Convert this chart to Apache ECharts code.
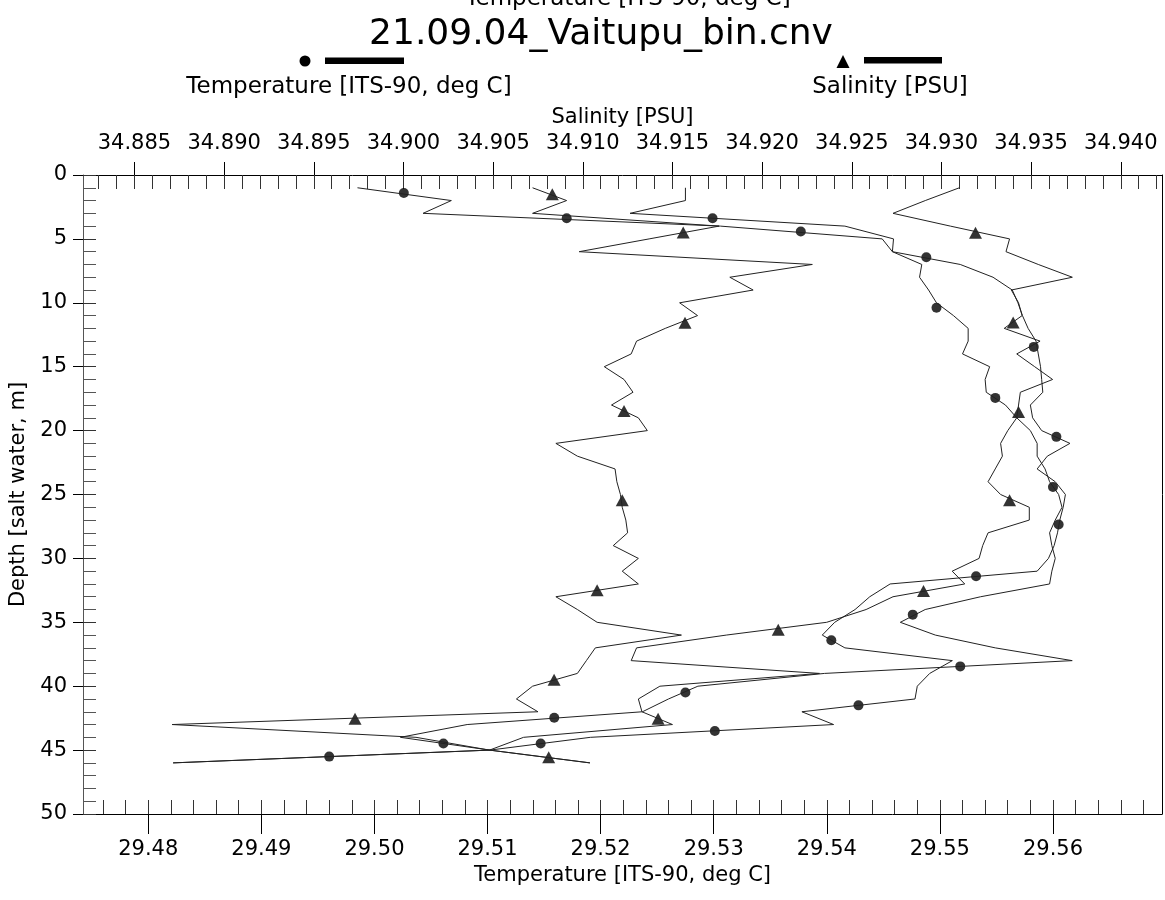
<!DOCTYPE html>
<html><head><meta charset="utf-8">
<script src="https://cdn.jsdelivr.net/npm/echarts@6.0.0/dist/echarts.min.js"></script>
<style>html,body{margin:0;padding:0;background:#fff}#c{width:1165px;height:900px}</style>
</head><body><div id="c"></div>
<script>
// Depth bins (m): downcast then upcast
const depthDown = [1,2,3,4,5,6,7,8,9,10,11,12,13,14,15,16,17,18,19,20,21,22,23,24,25,26,27,28,29,30,31,32,33,34,35,36,37,38,39,40,41,42,43,44,45,46];
const depthUp = [45,44,43,42,41,40,39,38,37,36,35,34,33,32,31,30,29,28,27,26,25,24,23,22,21,20,19,18,17,16,15,14,13,12,11,10,9,8,7,6,5,4,3,2,1];
// Temperature [ITS-90, deg C]
const tempDown = [29.4985,29.5068,29.5043,29.5306,29.5449,29.5458,29.5518,29.5547,29.5564,29.5569,29.5573,29.5578,29.5585,29.5587,29.5589,29.5590,29.5591,29.5580,29.5582,29.5590,29.5615,29.5595,29.5586,29.5602,29.5611,29.5609,29.5606,29.5604,29.5601,29.5596,29.5586,29.5456,29.5438,29.5425,29.5407,29.5396,29.5416,29.5511,29.5491,29.5480,29.5478,29.5378,29.5406,29.5191,29.5102,29.4822];
const tempUp = [29.5102,29.5023,29.5082,29.5237,29.5260,29.5286,29.5398,29.5617,29.5549,29.5496,29.5465,29.5487,29.5536,29.5597,29.5599,29.5602,29.5599,29.5597,29.5602,29.5608,29.5605,29.5597,29.5593,29.5586,29.5586,29.5580,29.5568,29.5558,29.5541,29.5540,29.5544,29.5520,29.5525,29.5525,29.5512,29.5497,29.5490,29.5482,29.5484,29.5458,29.5459,29.5416,29.5226,29.5275,29.5275];
// Salinity [PSU]
const salDown = [34.9072,34.9091,34.9072,34.9176,34.9137,34.9098,34.9228,34.9182,34.9195,34.9154,34.9164,34.9146,34.9130,34.9127,34.9112,34.9123,34.9128,34.9116,34.9131,34.9136,34.9085,34.9097,34.9118,34.9119,34.9121,34.9122,34.9124,34.9125,34.9117,34.9131,34.9122,34.9131,34.9085,34.9097,34.9108,34.9155,34.9107,34.9102,34.9097,34.9072,34.9063,34.9075,34.8871,34.9007,34.9048,34.9104];
const salUp = [34.9048,34.9067,34.9150,34.9133,34.9131,34.9143,34.9232,34.9127,34.9130,34.9180,34.9236,34.9258,34.9273,34.9313,34.9306,34.9321,34.9323,34.9326,34.9349,34.9349,34.9333,34.9326,34.9330,34.9334,34.9333,34.9337,34.9342,34.9343,34.9344,34.9362,34.9352,34.9342,34.9355,34.9335,34.9345,34.9343,34.9339,34.9373,34.9354,34.9336,34.9338,34.9305,34.9273,34.9291,34.9310];
// Marker positions [value, depth]
const tempMarkers = [[29.5026,1.41],[29.5170,3.39],[29.5299,3.39],[29.5377,4.42],[29.5488,6.44],[29.5497,10.39],[29.5583,13.45],[29.5549,17.44],[29.5603,20.49],[29.5600,24.41],[29.5605,27.35],[29.5532,31.40],[29.5476,34.40],[29.5404,36.41],[29.5518,38.45],[29.5275,40.49],[29.5428,41.50],[29.5159,42.47],[29.5301,43.51],[29.5061,44.48],[29.5147,44.48],[29.4960,45.51]];
const salMarkers = [[34.9083,1.51],[34.9156,4.50],[34.9319,4.52],[34.9157,11.57],[34.9340,11.54],[34.9123,18.46],[34.9343,18.54],[34.9122,25.45],[34.9338,25.45],[34.9108,32.50],[34.9290,32.55],[34.9209,35.58],[34.9084,39.49],[34.8973,42.54],[34.9142,42.54],[34.9081,45.55]];
// Axis tick labels
const tempTicks = [29.48,29.49,29.50,29.51,29.52,29.53,29.54,29.55,29.56];
const salTicks = [34.885,34.890,34.895,34.900,34.905,34.910,34.915,34.920,34.925,34.930,34.935,34.940];
const depthTicks = [0,5,10,15,20,25,30,35,40,45,50];

const TMIN = 29.47423, TMAX = 29.56964;
const SMIN = 34.88213, SMAX = 34.94230;
const FONT = 'DejaVu Sans';

const tempMinor = [];
for (let k = Math.ceil(TMIN / 0.002); k * 0.002 <= TMAX; k++) tempMinor.push(+(k * 0.002).toFixed(3));
const salMinor = [];
for (let k = Math.ceil(SMIN / 0.001); k * 0.001 <= SMAX; k++) salMinor.push(+(k * 0.001).toFixed(3));

const pairs = (vals, depths) => vals.map((v, i) => [v, depths[i]]);
const tempLine = pairs(tempDown, depthDown).concat(pairs(tempUp, depthUp));
const salLine = pairs(salDown, depthDown).concat(pairs(salUp, depthUp));

const chart = echarts.init(document.getElementById('c'), null, {renderer: 'canvas'});
const axisCol = '#000';
const baseX = (min, max) => ({type: 'value', min, max, splitLine: {show: false}, axisLine: {onZero: false, show: false}, axisLabel: {show: false}, axisTick: {show: false}});
chart.setOption({
  animation: false,
  backgroundColor: '#fff',
  grid: {left: 83, right: 3, top: 175, bottom: 86, containLabel: false},
  xAxis: [
    Object.assign(baseX(TMIN, TMAX), {
      position: 'bottom',
      name: 'Temperature [ITS-90, deg C]', nameLocation: 'middle', nameGap: 48,
      nameTextStyle: {fontFamily: FONT, fontSize: 21, color: '#000'},
      axisLine: {show: true, onZero: false, lineStyle: {color: axisCol, width: 1}},
      axisTick: {show: true, inside: false, length: 20, customValues: tempTicks, lineStyle: {color: axisCol}},
      axisLabel: {show: true, customValues: tempTicks, margin: 25, fontFamily: FONT, fontSize: 21, color: '#000', formatter: v => v.toFixed(2)}
    }),
    Object.assign(baseX(TMIN, TMAX), {
      position: 'bottom',
      axisTick: {show: true, inside: true, length: 14, customValues: tempMinor, lineStyle: {color: '#333'}}
    }),
    Object.assign(baseX(SMIN, SMAX), {
      position: 'top',
      name: 'Salinity [PSU]', nameLocation: 'middle', nameGap: 42,
      nameTextStyle: {fontFamily: FONT, fontSize: 21, color: '#000'},
      axisLine: {show: true, onZero: false, lineStyle: {color: axisCol, width: 1}},
      axisTick: {show: true, inside: false, length: 13, customValues: salTicks, lineStyle: {color: axisCol}},
      axisLabel: {show: true, customValues: salTicks, margin: 21, fontFamily: FONT, fontSize: 21, color: '#000', formatter: v => v.toFixed(3)}
    }),
    Object.assign(baseX(SMIN, SMAX), {
      position: 'top',
      axisTick: {show: true, inside: true, length: 14, customValues: salMinor, lineStyle: {color: '#333'}}
    })
  ],
  yAxis: [
    {type: 'value', inverse: true, min: 0, max: 50, interval: 5, position: 'left',
     name: 'Depth [salt water, m]', nameLocation: 'middle', nameGap: 50,
     nameTextStyle: {fontFamily: FONT, fontSize: 21, color: '#000'},
     splitLine: {show: false},
     axisLine: {show: true, onZero: false, lineStyle: {color: '#555', width: 1}},
     axisTick: {show: true, inside: false, length: 10, customValues: depthTicks, lineStyle: {color: axisCol}},
     axisLabel: {show: true, customValues: depthTicks, margin: 16, fontFamily: FONT, fontSize: 21, color: '#000'}},
    {type: 'value', inverse: true, min: 0, max: 50, interval: 5, position: 'left',
     splitLine: {show: false}, axisLine: {show: false, onZero: false}, axisLabel: {show: false},
     axisTick: {show: true, inside: true, length: 13, lineStyle: {color: '#333'}},
     minorTick: {show: true, splitNumber: 5, length: 13, lineStyle: {color: '#555'}}},
    {type: 'value', inverse: true, min: 0, max: 50, position: 'right',
     splitLine: {show: false}, axisLabel: {show: false}, axisTick: {show: false},
     axisLine: {show: true, onZero: false, lineStyle: {color: '#000', width: 1}}}
  ],
  series: [
    {type: 'line', name: 'Temperature [ITS-90, deg C]', xAxisIndex: 0, yAxisIndex: 0, data: tempLine,
     symbol: 'none', lineStyle: {color: '#222', width: 1}, silent: true},
    {type: 'line', name: 'Salinity [PSU]', xAxisIndex: 2, yAxisIndex: 0, data: salLine,
     symbol: 'none', lineStyle: {color: '#222', width: 1}, silent: true},
    {type: 'scatter', xAxisIndex: 0, yAxisIndex: 0, data: tempMarkers, symbol: 'circle', symbolSize: 10,
     itemStyle: {color: '#000'}, silent: true},
    {type: 'scatter', xAxisIndex: 2, yAxisIndex: 0, data: salMarkers, symbol: 'triangle', symbolSize: [13, 12],
     itemStyle: {color: '#000'}, silent: true}
  ],
  graphic: [
    {type: 'text', x: 628, y: -1, style: {text: 'Temperature [ITS-90, deg C]', font: '23px "DejaVu Sans"', fill: '#000', align: 'center', verticalAlign: 'middle'}},
    {type: 'text', x: 601, y: 35, style: {text: '21.09.04_Vaitupu_bin.cnv', font: '36px "DejaVu Sans"', fill: '#000', align: 'center', verticalAlign: 'middle'}},
    {type: 'circle', shape: {cx: 305, cy: 61, r: 5.5}, style: {fill: '#000'}},
    {type: 'rect', shape: {x: 325, y: 57.5, width: 79, height: 6.5}, style: {fill: '#000'}},
    {type: 'text', x: 349, y: 87, style: {text: 'Temperature [ITS-90, deg C]', font: '23px "DejaVu Sans"', fill: '#000', align: 'center', verticalAlign: 'middle'}},
    {type: 'polygon', shape: {points: [[843, 55], [849.5, 68], [836.5, 68]]}, style: {fill: '#000'}},
    {type: 'rect', shape: {x: 864, y: 57, width: 78, height: 6.5}, style: {fill: '#000'}},
    {type: 'text', x: 890, y: 87, style: {text: 'Salinity [PSU]', font: '23px "DejaVu Sans"', fill: '#000', align: 'center', verticalAlign: 'middle'}}
  ]
});
</script></body></html>
